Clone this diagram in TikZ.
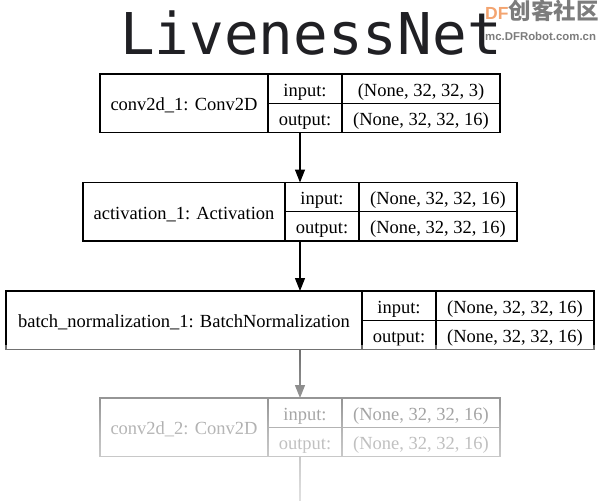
\documentclass[tikz,border=0pt]{standalone}
\usepackage{fontspec}
\setmainfont{Liberation Serif}
\newfontfamily\titlefont{DejaVu Sans Mono}
\newfontfamily\markfont{Liberation Sans}
\newfontfamily\cjkfont{Noto Sans CJK SC}
\usetikzlibrary{positioning,fit,arrows.meta,fadings}

\definecolor{dforange}{HTML}{F3A470}
\definecolor{dfgray}{HTML}{7C7C7C}
\definecolor{titleink}{HTML}{202024}

\pgfdeclareverticalshading{fadeshade}{100bp}{color(0bp)=(white); color(7bp)=(white!96!black); color(28.8bp)=(white!86!black); color(37.8bp)=(white!80!black); color(47.4bp)=(white!72!black); color(56.4bp)=(white!60!black); color(66bp)=(white!52!black); color(72bp)=(white!45!black); color(90.4bp)=(white!38!black); color(97.4bp)=(white!35!black); color(100bp)=(black)}
\pgfdeclarefading{fadedown}{\pgfuseshading{fadeshade}}

\begin{document}
\begin{tikzpicture}[
                x=1pt, y=-1pt,
                cell/.style={draw, line width=1.1pt, outer sep=0pt, inner sep=0pt,
                    minimum height=29.25pt, text height=15pt, text depth=0pt,
                    font=\fontsize{18.5}{20}\selectfont},
                namecell/.style={cell, minimum height=58.5pt},
                layer/.style={inner sep=0pt, outer sep=0pt},
                edge/.style={line width=1.1pt, -{Triangle[length=13pt, width=10pt]}},
                title/.style={inner sep=0pt, text=titleink, font=\titlefont\fontsize{57.6}{60}\selectfont},
                wmark/.style={inner sep=0pt, anchor=base west}
            ]
                \useasboundingbox (0,0) rectangle (600,501);
                \node[title, anchor=base] (title) at (311,54.5) {LivenessNet};
                \node[wmark] (markdf) at (485,19)
                    {\markfont\bfseries\fontsize{17.5}{18}\selectfont\textcolor{dforange}{DF}\cjkfont\fontsize{22.5}{23}\selectfont\textcolor{dfgray}{创客社区}};
                \node[wmark, text=dfgray, font=\markfont\bfseries\fontsize{11.4}{12}\selectfont] (markurl) at (485,40) {mc.DFRobot.com.cn};

                % conv2d_1
                \node[namecell, minimum width=168pt, anchor=north west] (conv1) at (100,74) {conv2d\_1: Conv2D};
                \node[cell, minimum width=74pt, anchor=north west] (conv1in) at (conv1.north east) {input:};
                \node[cell, minimum width=158pt, anchor=north west] (conv1inval) at (conv1in.north east) {(None, 32, 32, 3)};
                \node[cell, minimum width=74pt, anchor=north west] (conv1out) at (conv1in.south west) {output:};
                \node[cell, minimum width=158pt, anchor=north west] (conv1outval) at (conv1out.north east) {(None, 32, 32, 16)};
                \node[layer, fit=(conv1)(conv1inval)(conv1outval)] (layer1) {};

                % activation_1
                \node[namecell, minimum width=202pt, anchor=north west] (act1) at (83,182.5) {activation\_1: Activation};
                \node[cell, minimum width=74pt, anchor=north west] (act1in) at (act1.north east) {input:};
                \node[cell, minimum width=158pt, anchor=north west] (act1inval) at (act1in.north east) {(None, 32, 32, 16)};
                \node[cell, minimum width=74pt, anchor=north west] (act1out) at (act1in.south west) {output:};
                \node[cell, minimum width=158pt, anchor=north west] (act1outval) at (act1out.north east) {(None, 32, 32, 16)};
                \node[layer, fit=(act1)(act1inval)(act1outval)] (layer2) {};

                % batch_normalization_1
                \node[namecell, minimum width=356pt, anchor=north west] (bn1) at (6,291) {batch\_normalization\_1: BatchNormalization};
                \node[cell, minimum width=74pt, anchor=north west] (bn1in) at (bn1.north east) {input:};
                \node[cell, minimum width=158pt, anchor=north west] (bn1inval) at (bn1in.north east) {(None, 32, 32, 16)};
                \node[cell, minimum width=74pt, anchor=north west] (bn1out) at (bn1in.south west) {output:};
                \node[cell, minimum width=158pt, anchor=north west] (bn1outval) at (bn1out.north east) {(None, 32, 32, 16)};
                \node[layer, fit=(bn1)(bn1inval)(bn1outval)] (layer3) {};

                % conv2d_2
                \node[namecell, minimum width=168pt, anchor=north west] (conv2) at (100,398) {conv2d\_2: Conv2D};
                \node[cell, minimum width=74pt, anchor=north west] (conv2in) at (conv2.north east) {input:};
                \node[cell, minimum width=158pt, anchor=north west] (conv2inval) at (conv2in.north east) {(None, 32, 32, 16)};
                \node[cell, minimum width=74pt, anchor=north west] (conv2out) at (conv2in.south west) {output:};
                \node[cell, minimum width=158pt, anchor=north west] (conv2outval) at (conv2out.north east) {(None, 32, 32, 16)};
                \node[layer, fit=(conv2)(conv2inval)(conv2outval)] (layer4) {};
                \coordinate (tail) at (300,501);

                \draw[edge] (layer1.south) -- (layer2.north);
                \draw[edge] (layer2.south) -- (layer3.north);
                \draw[edge] (layer3.south) -- (layer4.north);
                \draw[line width=1.1pt] (layer4.south) -- (tail);

                % fade towards the bottom
                \fill[white, path fading=fadedown] (0,345) rectangle (600,501);
            \end{tikzpicture}
\end{document}
